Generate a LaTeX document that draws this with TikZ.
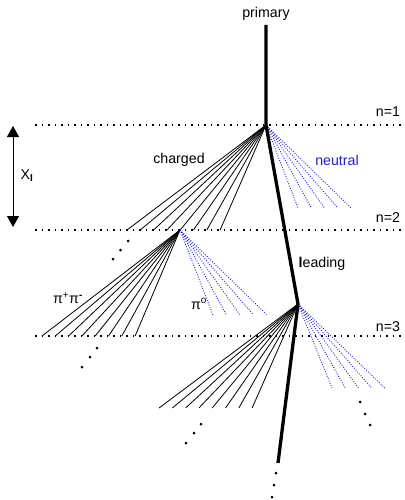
\documentclass[tikz,border=0pt]{standalone}
\usepackage{fontspec}
\setmainfont{Liberation Sans}
\usetikzlibrary{arrows.meta}
\definecolor{nblue}{RGB}{30,30,210}
\begin{document}
\begin{tikzpicture}[x=1pt,y=-1pt,
  hdots/.style={line width=1.8pt, dash pattern=on 1.8pt off 4.7pt},
  chg/.style={line width=0.8pt},
  neu/.style={draw=nblue, line width=0.9pt, dash pattern=on 0.9pt off 1.6pt},
  mainline/.style={line width=3.3pt},
  lbl/.style={font=\fontsize{14.2}{16}\selectfont, inner sep=0pt},
  edot/.style={circle, fill, inner sep=0pt, minimum size=3pt}]
\useasboundingbox (0,0) rectangle (404,500);

% level lines
\foreach \n/\y in {1/125,2/230,3/336}{
  \coordinate (L\n a) at (35,\y);
  \coordinate (L\n b) at (402,\y);
  \draw[hdots] (L\n a) -- (L\n b);
}
\node[lbl] (n1) at (388,112) {n=1};
\node[lbl] (n2) at (388,218) {n=2};
\node[lbl] (n3) at (388,327) {n=3};

% vertices
\coordinate (v1) at (266,125);
\coordinate (v2) at (180,230);
\coordinate (v3) at (298,304);
\coordinate (vend) at (278,463);

% fans
\foreach \i in {0,...,7}{
  \coordinate (a\i) at ({127+\i*13.3},230);
  \draw[chg] (v1) -- (a\i);
  \coordinate (b\i) at ({42+\i*13.3},336);
  \draw[chg] (v2) -- (b\i);
  \coordinate (c\i) at ({159+\i*13.3},408);
  \draw[chg] (v3) -- (c\i);
}
\foreach \i in {0,...,4}{
  \coordinate (p\i) at ({298+\i*13.25},208);
  \draw[neu] (v1) -- (p\i);
  \coordinate (q\i) at ({213+\i*13.5},315);
  \draw[neu] (v2) -- (q\i);
  \coordinate (r\i) at ({332+\i*13.2},388);
  \draw[neu] (v3) -- (r\i);
}

% primary / leading line
\node[lbl, anchor=base] (primary) at (266,18) {primary};
\coordinate (ptop) at (266,25);
\draw[mainline] (ptop) -- (v1) -- (v3) -- (vend);

% ellipsis dots
\foreach \x/\y [count=\k] in {128/241,120.5/250,113/259, 97/348,90/357,82/367,
  201/424,194/433,186/443, 360/402,365/414,370/425, 276/473,274/485,272/497}{
  \node[edot] (d\k) at (\x,\y) {};
}

% labels
\node[lbl] (charged) at (179,160) {charged};
\node[lbl, text=nblue] (neutral) at (337,160) {neutral};
\node[lbl] (leading) at (322,264) {\textbf{l}eading};
\node[lbl] (pipm) at (68,298) {π\textsuperscript{+}π\textsuperscript{\textbf{-}}};
\node[lbl] (pi0) at (199,304) {π\textsuperscript{o}};

% X_I arrow
\coordinate (xa) at (13,126);
\coordinate (xb) at (13,227);
\draw[line width=1pt, {Triangle[width=12pt,length=11pt]}-{Triangle[width=12pt,length=11pt]}] (xa) -- (xb);
\node[lbl] (xlab) at (27,176) {X\textsubscript{\textbf{I}}};
\end{tikzpicture}
\end{document}
